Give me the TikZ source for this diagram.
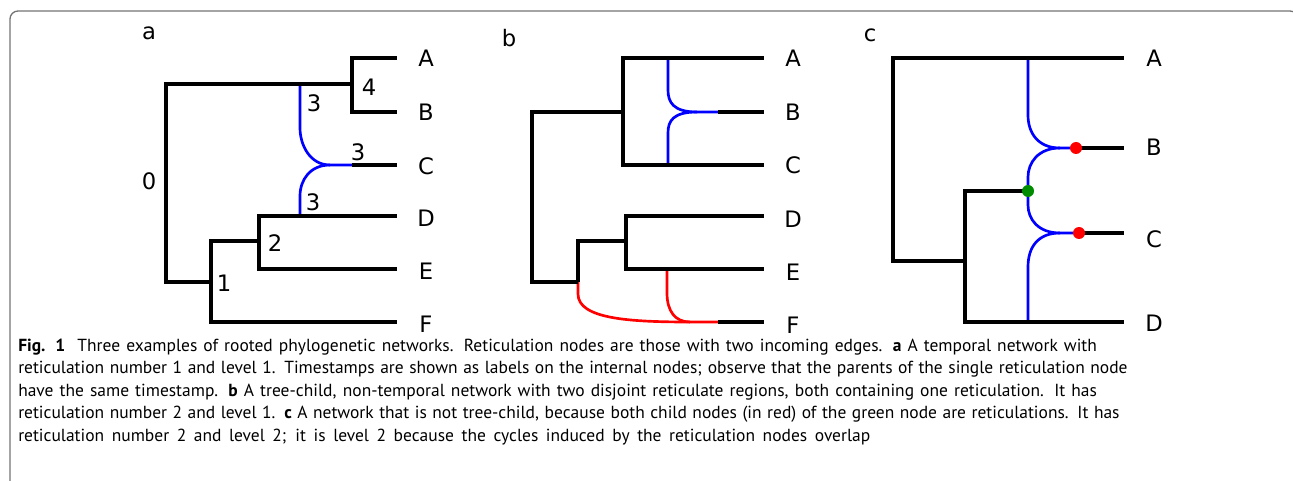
\documentclass[tikz,border=0pt]{standalone}
\usepackage{fontspec}
\newfontfamily\lblfont{DejaVu Sans}
\newfontfamily\capfont{PT Sans}
\tikzset{
  tree/.style={line width=2.4pt},
  ret/.style={line width=2pt, blue},
  retred/.style={line width=2pt, red},
  lbl/.style={inner sep=0pt, font=\lblfont\fontsize{17}{20}\selectfont},
  capline/.style={anchor=base west, inner sep=0pt, font=\capfont\fontsize{13.1}{15}\selectfont},
  dot/.style={circle, inner sep=0pt, minimum size=9pt}
}
\newcommand{\capfill}[2]{\makebox[#1][s]{#2}}
\begin{document}
\begin{tikzpicture}[x=0.75pt,y=-0.75pt]
\useasboundingbox (0,0) rectangle (1293,481);
\draw[black!55, line width=1pt, rounded corners=6pt] (10,11) rectangle (1298,492);

% panel a
\node[lbl] (pa) at (149,33) {a};
\coordinate (ar) at (166,183);
\coordinate (at) at (300,84);
\coordinate (a4) at (352,84);
\coordinate (a1) at (211,282);
\coordinate (a2) at (259,241);
\coordinate (ab) at (300,216);
\coordinate (ajn) at (330,165);
\coordinate (ah) at (352,165);
\foreach \n/\y in {A/58,B/112,C/165,D/216,E/269,F/322}
\coordinate (a\n) at (397,\y);
\draw[ret] (at) -- ++(0,44) .. controls +(0,17) and +(-20,0) .. (ajn) -- (ah);
\draw[ret] (ab) -- ++(0,-20) .. controls +(0,-16) and +(-20,0) .. (ajn);
\draw[tree] (ar) |- (at) -- (a4);
\draw[tree] (ar) |- (a1);
\draw[tree] (a4) |- (aA);
\draw[tree] (a4) |- (aB);
\draw[tree] (a1) |- (a2);
\draw[tree] (a1) |- (aF);
\draw[tree] (a2) |- (ab) -- (aD);
\draw[tree] (a2) |- (aE);
\draw[tree] (ah) -- (aC);
\foreach \n/\y in {A/58,B/112,C/166,D/218,E/271,F/324}
\node[lbl] (la\n) at (426,\y) {\n};
\node[lbl] (ta0) at (149,181) {0};
\node[lbl] (ta1) at (224,283) {1};
\node[lbl] (ta2) at (275,243) {2};
\node[lbl] (ta3) at (314,103) {3};
\node[lbl] (ta4) at (369,87) {4};
\node[lbl] (ta5) at (358,152) {3};
\node[lbl] (ta6) at (313,202) {3};

% panel b
\node[lbl] (pb) at (509,38) {b};
\coordinate (br) at (532,197);
\coordinate (bu) at (623,112);
\coordinate (bl) at (578,282);
\coordinate (bd) at (626,241);
\coordinate (bta) at (668,58);
\coordinate (btc) at (668,165);
\coordinate (bjn) at (697,112);
\coordinate (bh) at (718,112);
\coordinate (bte) at (667,269);
\coordinate (bfj) at (690,322);
\coordinate (bf) at (718,322);
\foreach \n/\y in {A/58,B/112,C/165,D/216,E/269,F/322}
\coordinate (b\n) at (764,\y);
\draw[ret] (bta) -- ++(0,32) .. controls +(0,12) and +(-24,0) .. (bjn) -- (bh);
\draw[ret] (btc) -- ++(0,-32) .. controls +(0,-12) and +(-24,0) .. (bjn);
\draw[retred] (bl) -- ++(0,12) .. controls +(0,25) and +(-60,0) .. (bfj) -- (bf);
\draw[retred] (bte) -- ++(0,24) .. controls +(0,18) and +(-15,0) .. (bfj);
\draw[tree] (br) |- (bu);
\draw[tree] (br) |- (bl);
\draw[tree] (bu) |- (bA);
\draw[tree] (bu) |- (bC);
\draw[tree] (bh) -- (bB);
\draw[tree] (bl) |- (bd);
\draw[tree] (bd) |- (bD);
\draw[tree] (bd) |- (bE);
\draw[tree] (bf) -- (bF);
\foreach \n/\y in {A/58,B/112,C/165,D/219,E/272,F/325}
\node[lbl] (lb\n) at (793,\y) {\n};

% panel c
\node[lbl] (pc) at (870,35) {c};
\coordinate (cr) at (893,160);
\coordinate (ct) at (1028,58);
\coordinate (cl) at (965,261);
\coordinate (cg) at (1028,191);
\coordinate (cd) at (1028,322);
\coordinate (cbj) at (1060,148);
\coordinate (ccj) at (1060,233);
\coordinate (cb) at (1076,148);
\coordinate (cc) at (1079,233);
\foreach \n/\y in {A/58,B/148,C/233,D/322}
\coordinate (c\n) at (1124,\y);
\draw[ret] (ct) -- ++(0,57) .. controls +(0,18) and +(-22,0) .. (cbj) -- (cb);
\draw[ret] (cg) -- ++(0,-14) .. controls +(0,-14) and +(-22,0) .. (cbj);
\draw[ret] (cg) -- ++(0,14) .. controls +(0,14) and +(-22,0) .. (ccj) -- (cc);
\draw[ret] (cd) -- ++(0,-55) .. controls +(0,-20) and +(-22,0) .. (ccj);
\draw[tree] (cr) |- (ct) -- (cA);
\draw[tree] (cr) |- (cl);
\draw[tree] (cl) |- (cg);
\draw[tree] (cl) |- (cd) -- (cD);
\draw[tree] (cb) -- (cB);
\draw[tree] (cc) -- (cC);
\node[dot, fill=red] (rb) at (cb) {};
\node[dot, fill=red] (rc) at (cc) {};
\node[dot, fill=green!55!black] (gn) at (cg) {};
\foreach \n/\y in {A/58,B/147,C/239,D/323}
\node[lbl] (lc\n) at (1154,\y) {\n};

% caption, one node per printed line
\node[capline] (cap1) at (18,351) {\capfill{809pt}{\textbf{Fig. 1}\hspace{0.7em}Three examples of rooted phylogenetic networks. Reticulation nodes are those with two incoming edges. \textbf{a} A temporal network with}};
\node[capline] (cap2) at (18,373.5) {\capfill{832pt}{reticulation number 1 and level 1. Timestamps are shown as labels on the internal nodes; observe that the parents of the single reticulation node}};
\node[capline] (cap3) at (18,396) {\capfill{809pt}{have the same timestamp. \textbf{b} A tree-child, non-temporal network with two disjoint reticulate regions, both containing one reticulation. It has}};
\node[capline] (cap4) at (18,418.5) {\capfill{826pt}{reticulation number 2 and level 1. \textbf{c} A network that is not tree-child, because both child nodes (in red) of the green node are reticulations. It has}};
\node[capline] (cap5) at (18,441) {\capfill{639pt}{reticulation number 2 and level 2; it is level 2 because the cycles induced by the reticulation nodes overlap}};
\end{tikzpicture}
\end{document}
